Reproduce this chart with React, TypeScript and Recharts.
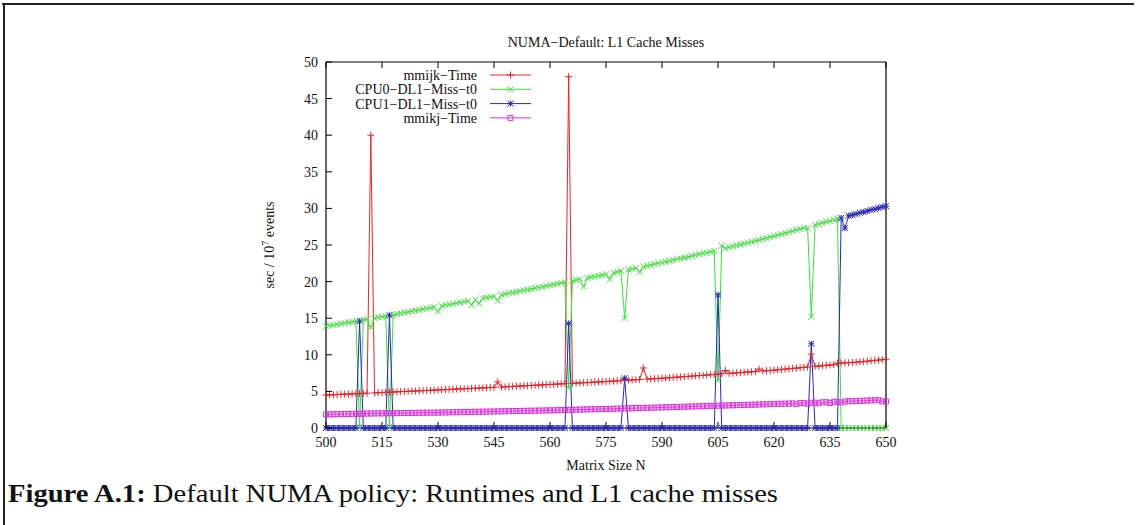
import { LineChart, Line, XAxis, YAxis } from "recharts"

// matrix sizes N = 500 .. 650
const sizes = Array.from({ length: 151 }, (_, i) => 500 + i)

const xTicks = [500, 515, 530, 545, 560, 575, 590, 605, 620, 635, 650]
const yTicks = [0, 5, 10, 15, 20, 25, 30, 35, 40, 45, 50]

const mmijkTime = [
  4.5, 4.52, 4.55, 4.57, 4.6, 4.62, 4.63, 4.66, 4.68, 4.7,
  4.73, 4.75, 40.0, 4.8, 4.82, 4.85, 4.87, 4.9, 4.92, 4.94,
  4.97, 4.99, 5.01, 5.04, 5.06, 5.08, 5.11, 5.13, 5.15, 5.18,
  5.2, 5.22, 5.25, 5.27, 5.29, 5.32, 5.34, 5.36, 5.39, 5.41,
  5.43, 5.46, 5.48, 5.5, 5.53, 5.55, 6.3, 5.6, 5.63, 5.65,
  5.68, 5.71, 5.73, 5.76, 5.79, 5.81, 5.84, 5.87, 5.89, 5.92,
  5.95, 5.97, 6.0, 6.03, 6.05, 48.0, 6.11, 6.13, 6.16, 6.19,
  6.21, 6.24, 6.27, 6.29, 6.32, 6.35, 6.38, 6.41, 6.44, 6.47,
  6.7, 6.53, 6.56, 6.59, 6.62, 8.2, 6.68, 6.71, 6.74, 6.77,
  6.8, 6.84, 6.87, 6.91, 6.94, 6.98, 7.02, 7.05, 7.09, 7.13,
  7.17, 7.2, 7.24, 7.28, 7.31, 7.35, 7.39, 7.85, 7.46, 7.5,
  7.54, 7.57, 7.61, 7.65, 7.68, 7.72, 8.05, 7.79, 7.83, 7.86,
  7.9, 7.95, 8.0, 8.04, 8.09, 8.14, 8.18, 8.23, 8.28, 8.32,
  10.1, 8.42, 8.46, 8.51, 8.56, 8.6, 8.65, 8.85, 8.88, 8.9,
  8.92, 8.95, 8.99, 9.03, 9.07, 9.13, 9.18, 9.23, 9.28, 9.34,
  9.4,
]

const cpu0Miss = [
  13.9, 13.99, 14.07, 14.16, 14.25, 14.33, 14.42, 14.51, 14.6, 0.2,
  14.77, 14.86, 13.7, 15.03, 15.12, 15.2, 15.29, 0.2, 15.48, 15.57,
  15.67, 15.76, 15.85, 15.95, 16.04, 16.13, 16.23, 16.32, 16.41, 16.51,
  15.9, 16.69, 16.79, 16.88, 16.97, 17.07, 17.16, 17.25, 17.35, 16.8,
  17.53, 17.0, 17.72, 17.81, 17.91, 18.0, 17.4, 18.2, 18.3, 18.4,
  18.5, 18.6, 18.7, 18.8, 18.9, 19.0, 19.1, 19.2, 19.3, 19.4,
  19.5, 19.6, 19.7, 19.8, 19.9, 5.5, 20.1, 20.2, 20.3, 19.3,
  20.5, 20.6, 20.7, 20.8, 20.9, 21.0, 20.3, 21.21, 21.32, 21.43,
  15.0, 21.64, 21.75, 21.86, 21.3, 22.07, 22.17, 22.28, 22.39, 22.49,
  22.6, 22.71, 22.83, 22.94, 23.05, 23.17, 23.28, 23.39, 23.51, 23.62,
  23.73, 23.85, 23.96, 24.07, 24.19, 6.5, 24.9, 24.56, 24.68, 24.81,
  24.94, 25.06, 25.19, 25.32, 25.45, 25.57, 25.7, 25.83, 25.95, 26.08,
  26.2, 26.34, 26.48, 26.62, 26.76, 26.9, 27.04, 27.18, 27.32, 27.3,
  15.2, 27.74, 27.88, 28.02, 28.16, 28.3, 28.45, 28.6, 0, 0,
  0, 0, 0, 0, 0, 0, 0, 0, 0, 0,
  0,
]

const cpu1Miss = [
  0, 0, 0, 0, 0, 0, 0, 0, 0, 14.6,
  0, 0, 0, 0, 0, 0, 0, 15.4, 0, 0,
  0, 0, 0, 0, 0, 0, 0, 0, 0, 0,
  0, 0, 0, 0, 0, 0, 0, 0, 0, 0,
  0, 0, 0, 0, 0, 0, 0, 0, 0, 0,
  0, 0, 0, 0, 0, 0, 0, 0, 0, 0,
  0, 0, 0, 0, 0, 14.3, 0, 0, 0, 0,
  0, 0, 0, 0, 0, 0, 0, 0, 0, 0,
  6.8, 0, 0, 0, 0, 0, 0, 0, 0, 0,
  0, 0, 0, 0, 0, 0, 0, 0, 0, 0,
  0, 0, 0, 0, 0, 18.2, 0, 0, 0, 0,
  0, 0, 0, 0, 0, 0, 0, 0, 0, 0,
  0, 0, 0, 0, 0, 0, 0, 0, 0, 0,
  11.5, 0, 0, 0, 0, 0, 0, 0, 28.7, 27.3,
  29.0, 29.1, 29.25, 29.4, 29.5, 29.65, 29.8, 29.9, 30.05, 30.2,
  30.3,
]

const mmikjTime = [
  1.85, 1.86, 1.88, 1.89, 1.9, 1.91, 1.92, 1.93, 1.94, 1.95,
  1.96, 1.97, 1.98, 1.99, 2.0, 2.0, 2.01, 2.02, 2.02, 2.03,
  2.04, 2.05, 2.05, 2.06, 2.07, 2.08, 2.08, 2.09, 2.1, 2.1,
  2.11, 2.12, 2.13, 2.14, 2.15, 2.16, 2.17, 2.18, 2.19, 2.2,
  2.21, 2.22, 2.23, 2.24, 2.25, 2.26, 2.27, 2.28, 2.29, 2.3,
  2.31, 2.32, 2.33, 2.34, 2.35, 2.36, 2.37, 2.38, 2.39, 2.4,
  2.41, 2.42, 2.44, 2.45, 2.46, 2.48, 2.49, 2.5, 2.52, 2.53,
  2.54, 2.56, 2.57, 2.58, 2.59, 2.61, 2.62, 2.63, 2.65, 2.66,
  2.68, 2.69, 2.7, 2.72, 2.73, 2.75, 2.76, 2.77, 2.79, 2.8,
  2.82, 2.83, 2.85, 2.86, 2.88, 2.89, 2.91, 2.92, 2.94, 2.95,
  2.97, 2.98, 3.0, 3.02, 3.03, 3.05, 3.06, 3.08, 3.09, 3.11,
  3.12, 3.14, 3.15, 3.17, 3.18, 3.2, 3.21, 3.23, 3.24, 3.26,
  3.27, 3.29, 3.31, 3.32, 3.34, 3.36, 3.25, 3.4, 3.42, 3.3,
  3.45, 3.47, 3.38, 3.51, 3.53, 3.42, 3.57, 3.59, 3.48, 3.63,
  3.65, 3.67, 3.69, 3.71, 3.73, 3.75, 3.77, 3.79, 3.8, 3.65,
  3.62,
]

const RED = "#e8252a"
const GREEN = "#3ce03c"
const BLUE = "#2828b8"
const MAGENTA = "#e030e0"
const FONT = "'Liberation Serif', 'Times New Roman', serif"

const data = sizes.map((n, i) => ({
  n,
  mmijk: mmijkTime[i],
  cpu0: cpu0Miss[i],
  cpu1: cpu1Miss[i],
  mmikj: mmikjTime[i],
}))

// gnuplot style point shapes
const plusPath = (x: number, y: number, r: number) =>
  `M${x - r},${y}H${x + r}M${x},${y - r}V${y + r}`
const crossPath = (x: number, y: number, r: number) =>
  `M${x - r},${y - r}L${x + r},${y + r}M${x - r},${y + r}L${x + r},${y - r}`
const starPath = (x: number, y: number, r: number) =>
  crossPath(x, y, r) + plusPath(x, y, r)
const boxPath = (x: number, y: number, r: number) =>
  `M${x - r},${y - r}H${x + r}V${y + r}H${x - r}Z`

const shapes: Record<string, (x: number, y: number) => string> = {
  plus: (x, y) => plusPath(x, y, 3.5),
  cross: (x, y) => crossPath(x, y, 3),
  star: (x, y) => starPath(x, y, 3),
  box: (x, y) => boxPath(x, y, 2.5),
}

const makeDot = (shape: string, color: string) => (p: any) => {
  const { cx, cy, index } = p
  if (cx == null || cy == null) return <g key={`d-${index}`} />
  return (
    <path
      key={`d-${index}`}
      d={shapes[shape](cx, cy)}
      stroke={color}
      strokeWidth={1}
      fill="none"
    />
  )
}

const series = [
  { key: "mmijk", name: "mmijk\u2212Time", color: RED, shape: "plus" },
  { key: "cpu0", name: "CPU0\u2212DL1\u2212Miss\u2212t0", color: GREEN, shape: "cross" },
  { key: "cpu1", name: "CPU1\u2212DL1\u2212Miss\u2212t0", color: BLUE, shape: "star" },
  { key: "mmikj", name: "mmikj\u2212Time", color: MAGENTA, shape: "box" },
]

const TICK = 6

const BottomTick = ({ x, y, payload }: any) => (
  <g>
    <line x1={x} x2={x} y1={y} y2={y - TICK} stroke="#000" />
    <text x={x} y={y + 19} textAnchor="middle" fontSize={14} fontFamily={FONT} fill="#111">
      {payload.value}
    </text>
  </g>
)
const TopTick = ({ x, y }: any) => (
  <line x1={x} x2={x} y1={y} y2={y + TICK} stroke="#000" />
)
const LeftTick = ({ x, y, payload }: any) => (
  <g>
    <line x1={x} x2={x + TICK} y1={y} y2={y} stroke="#000" />
    <text x={x - 8} y={y + 5} textAnchor="end" fontSize={14} fontFamily={FONT} fill="#111">
      {payload.value}
    </text>
  </g>
)
const RightTick = ({ x, y }: any) => (
  <line x1={x} x2={x - TICK} y1={y} y2={y} stroke="#000" />
)

const YLabel = ({ viewBox }: any) => {
  const cx = viewBox.x + viewBox.width - 52
  const cy = viewBox.y + viewBox.height / 2
  return (
    <text
      transform={`translate(${cx},${cy}) rotate(-90)`}
      textAnchor="middle"
      fontSize={14}
      fontFamily={FONT}
      fill="#111"
    >
      sec / 10<tspan fontSize={10} dy={-5}>7</tspan>
      <tspan dy={5}> events</tspan>
    </text>
  )
}

const XLabel = ({ viewBox }: any) => (
  <text
    x={viewBox.x + viewBox.width / 2}
    y={viewBox.y + 42}
    textAnchor="middle"
    fontSize={14}
    fontFamily={FONT}
    fill="#111"
  >
    Matrix Size N
  </text>
)

export default function App() {
  return (
    <div style={{ position: "absolute", left: 0, top: 0, width: 1143, height: 525, background: "#fff" }}>
      <LineChart
        width={1143}
        height={525}
        data={data}
        margin={{ top: 61, right: 256, bottom: 96, left: 325 }}
      >
        <XAxis
          dataKey="n"
          type="number"
          domain={[500, 650]}
          ticks={xTicks}
          height={1}
          tickSize={0}
          tickMargin={0}
          tick={<BottomTick />}
          axisLine={{ stroke: "#000", strokeWidth: 1.2 }}
          tickLine={false}
          interval={0}
          label={<XLabel />}
        />
        <XAxis
          xAxisId="top"
          orientation="top"
          dataKey="n"
          type="number"
          domain={[500, 650]}
          ticks={xTicks}
          height={1}
          tickSize={0}
          tickMargin={0}
          tick={<TopTick />}
          axisLine={{ stroke: "#000", strokeWidth: 1.2 }}
          tickLine={false}
          interval={0}
        />
        <YAxis
          type="number"
          domain={[0, 50]}
          ticks={yTicks}
          width={1}
          tickSize={0}
          tickMargin={0}
          tick={<LeftTick />}
          axisLine={{ stroke: "#000", strokeWidth: 1.2 }}
          tickLine={false}
          interval={0}
          label={<YLabel />}
        />
        <YAxis
          yAxisId="right"
          orientation="right"
          type="number"
          domain={[0, 50]}
          ticks={yTicks}
          width={1}
          tickSize={0}
          tickMargin={0}
          tick={<RightTick />}
          axisLine={{ stroke: "#000", strokeWidth: 1.2 }}
          tickLine={false}
          interval={0}
        />
        {series.map((s) => (
          <Line
            key={s.key}
            dataKey={s.key}
            name={s.name}
            type="linear"
            stroke={s.color}
            strokeWidth={1}
            dot={makeDot(s.shape, s.color)}
            activeDot={false}
            isAnimationActive={false}
          />
        ))}
      </LineChart>

      <svg
        width={1143}
        height={525}
        style={{ position: "absolute", left: 0, top: 0, pointerEvents: "none" }}
      >
        {/* page frame */}
        <line x1={2} x2={1134} y1={4} y2={4} stroke="#222" strokeWidth={2} />
        <line x1={4} x2={4} y1={3} y2={525} stroke="#222" strokeWidth={2} />

        {/* title */}
        <text x={606} y={47} textAnchor="middle" fontSize={14} fontFamily={FONT} fill="#111">
          NUMA{"\u2212"}Default: L1 Cache Misses
        </text>

        {/* legend */}
        {series.map((s, i) => {
          const y = 75 + i * 14.3
          return (
            <g key={s.key}>
              <text x={477} y={y + 5} textAnchor="end" fontSize={14} fontFamily={FONT} fill="#111">
                {s.name}
              </text>
              <line x1={490} x2={531} y1={y} y2={y} stroke={s.color} strokeWidth={1} />
              <path d={shapes[s.shape](510.5, y)} stroke={s.color} strokeWidth={1} fill="none" />
            </g>
          )
        })}

        {/* caption */}
        <text
          x={8}
          y={502}
          fontSize={26}
          fontFamily={FONT}
          fill="#111"
          textLength={770}
          lengthAdjust="spacingAndGlyphs"
        >
          <tspan fontWeight="bold">Figure A.1:</tspan> Default NUMA policy: Runtimes and L1 cache misses
        </text>
      </svg>
    </div>
  )
}
